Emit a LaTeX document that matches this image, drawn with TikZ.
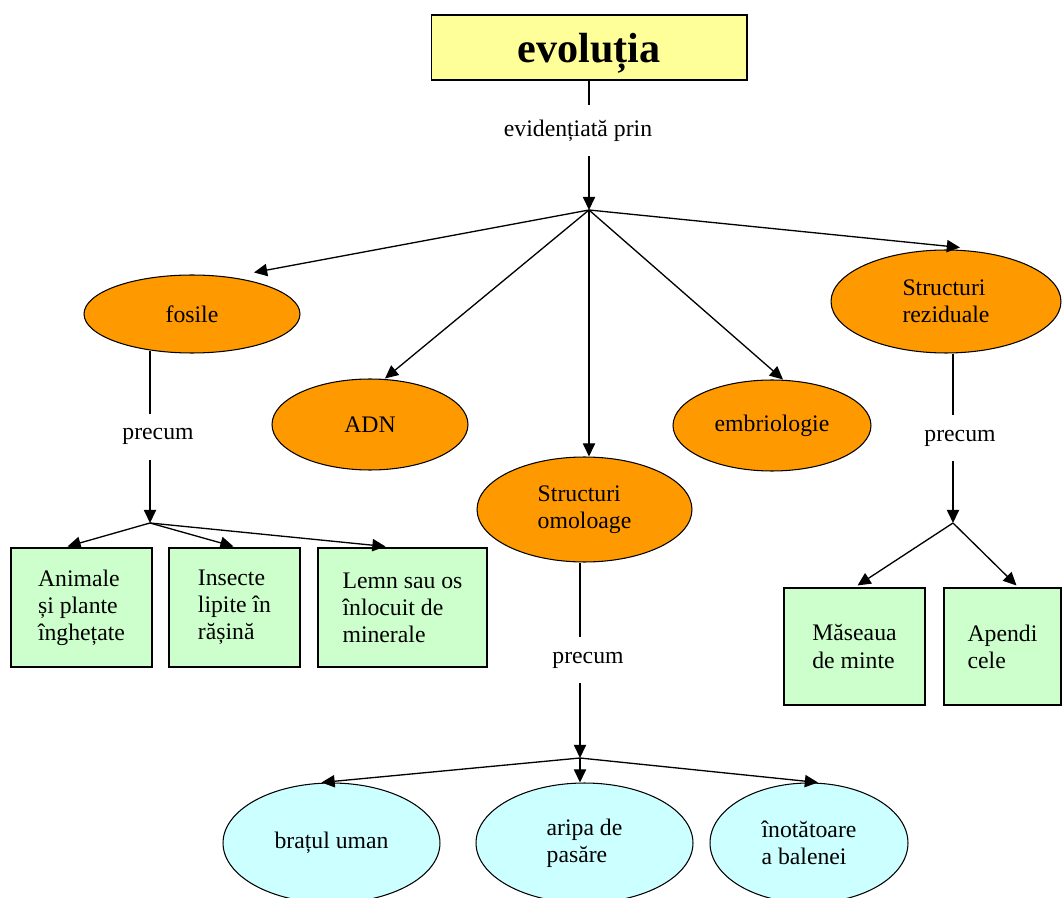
\documentclass[tikz,border=0pt]{standalone}
\usepackage{fontspec}
\setmainfont{Liberation Serif}
\usetikzlibrary{shapes.geometric, arrows.meta, calc, positioning}
\definecolor{galben}{HTML}{FFFF99}
\definecolor{portocaliu}{HTML}{FF9900}
\definecolor{verde}{HTML}{CCFFCC}
\definecolor{bleu}{HTML}{CCFFFF}
\tikzstyle{titlebox} = [rectangle, minimum width=6.32cm, minimum height=1.3cm, text depth=0pt, draw=black, fill=galben, font=\fontsize{24}{28}\selectfont\bfseries]
\tikzstyle{oval} = [ellipse, inner sep=0pt, draw=black, fill=portocaliu, align=left]
\tikzstyle{oval2} = [ellipse, inner sep=0pt, minimum width=4.34cm, minimum height=2.4cm, draw=black, fill=bleu, align=left]
\tikzstyle{process} = [rectangle, minimum height=2.38cm, draw=black, fill=verde, align=left]
\tikzstyle{arrow} = [line width=0.75pt, -{Triangle[length=7.5pt, width=7pt]}]
\tikzstyle{link} = [fill=white, inner xsep=1pt, inner ysep=0.3cm]

\begin{document}
\begin{tikzpicture}[x=0.02cm, y=-0.02cm, font=\fontsize{13.5}{15.4}\selectfont, line width=0.6pt]
    \useasboundingbox (0,0) rectangle (1062,898);

    \node (evol) [titlebox] at (589,47.5) {evoluția};

    \node (fosile) [oval, minimum width=4.32cm, minimum height=1.56cm] at (192,314) {fosile};
    \node (adn) [oval, minimum width=3.92cm, minimum height=1.82cm] at (370,424.5) {ADN};
    \node (omol) [oval, minimum width=4.3cm, minimum height=2.1cm] at (584.5,509.5) {Structuri\\omoloage};
    \node (embrio) [oval, minimum width=3.96cm, minimum height=1.82cm] at (772,425.5) {embriologie};
    \node (rezid) [oval, minimum width=4.6cm, minimum height=2.06cm] at (946,301.5) {Structuri\\reziduale};

    \node (box1) [process, minimum width=2.82cm] at (81.5,607.5) {Animale\\și plante\\înghețate};
    \node (box2) [process, minimum width=2.62cm] at (234.5,607.5) {Insecte\\lipite în\\rășină};
    \node (box3) [process, minimum width=3.38cm] at (402.5,607.5) {Lemn sau os\\înlocuit de\\minerale};

    \node (masea) [process, minimum width=2.82cm, minimum height=2.34cm] at (854.5,646.5) {Măseaua\\de minte};
    \node (apend) [process, minimum width=2.34cm, minimum height=2.34cm] at (1002.5,646.5) {Apendi\\cele};

    \node (brat) [oval2] at (331.5,843) {brațul uman};
    \node (aripa) [oval2] at (584.5,843) {aripa de\\pasăre};
    \node (inot) [oval2, minimum width=3.96cm] at (809,843) {înotătoare\\a balenei};

    \coordinate (j0) at (589,210);
    \coordinate (j1) at (150,523);
    \coordinate (j2) at (580,758);
    \coordinate (j3) at (953,523);

    \draw[arrow] (evol) -- (j0) node[link, pos=0.385, xshift=-2.2mm] {evidențiată prin};
    \draw[arrow] (j0) -- ($(fosile.north)+(62,-2)$);
    \draw[arrow] (j0) -- ($(adn.north)+(15,0)$);
    \draw[arrow] (j0) -- (j0 |- omol.north);
    \draw[arrow] (j0) -- ($(embrio.north)+(11,0)$);
    \draw[arrow] (j0) -- ($(rezid.north)+(14,-2)$);

    \draw[arrow] ($(j1 |- fosile.south)+(0,-3)$) -- (j1) node[link, midway, xshift=1.6mm] {precum};
    \draw[arrow] (j1) -- ($(box1.north)+(-14,-1)$);
    \draw[arrow] (j1) -- ($(box2.north)+(-1,-1)$);
    \draw[arrow] (j1) -- ($(box3.north)+(-17,-1)$);

    \draw[arrow] (j2 |- omol.south) -- (j2) node[link, midway, xshift=1.6mm] {precum};
    \draw[arrow] (j2) -- ($(brat.north)+(-10,0)$);
    \draw[arrow] (j2) -- (j2 |- aripa.north);
    \draw[arrow] (j2) -- ($(inot.north)+(9,0)$);

    \draw[arrow] (j3 |- rezid.south) -- (j3) node[link, midway, xshift=1.4mm] {precum};
    \draw[arrow] (j3) -- ($(masea.north)+(3,-2)$);
    \draw[arrow] (j3) -- ($(apend.north)+(14,-2)$);

\end{tikzpicture}
\end{document}
